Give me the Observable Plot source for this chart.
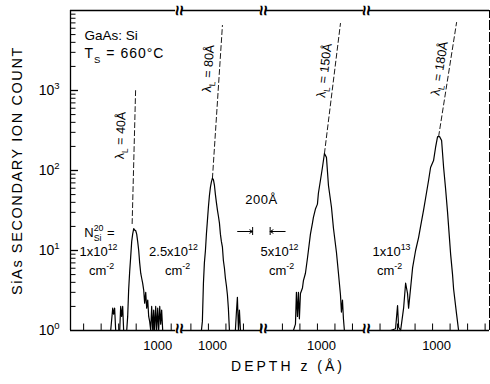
<!DOCTYPE html>
<html><head><meta charset="utf-8">
<script src="https://cdn.jsdelivr.net/npm/d3@7"></script>
<script src="https://cdn.jsdelivr.net/npm/@observablehq/plot@0.6"></script>
<style>body{margin:0;background:#fff} svg{font-family:"Liberation Sans",Arial,sans-serif;background:#fff}</style>
</head><body><div id="chart"></div>
<script>
// Panels (broken depth axis): decay length label, dose, visible depth window (Å)
const panelLambda = ["λ_{L} = 40Å", "λ_{L} = 80Å", "λ_{L} = 150Å", "λ_{L} = 180Å"];
const panelDose = ["1x10^{12}", "2.5x10^{12}", "5x10^{12}", "1x10^{13}"];
const panelStart = [50, 660, 385, 245];
const panelEnd = [1285, 1630, 1560, 1650];
const panelTicks = [[200,400,600,800,1000,1200],[800,1000,1200,1400,1600],[600,800,1000,1200,1400],[400,600,800,1000,1200,1400,1600]];
const tickLabelDepth = 1000;

// SiAs secondary ion count profiles (depth Å, counts)
const depth40 = [509,532,543,554,566,612,623,634,646,657,692,703,714,726,737,749,760,772,783,794,806,817,829,840,852,863,874,886,897,909,920,932,943,954,966,977,989,1000,1011,1023,1034,1046,1057,1069,1080,1091,1103,1114];
const count40 = [1,1.9,1.6,1.9,1,1,2.0,1.5,2.0,1,1,1.5,3.2,5.5,8.2,13,16,18.8,18,17.8,16,13,10,7,5.2,4.5,3.9,3.2,2.2,3.0,1.9,2.4,1.5,1.3,1,2.0,1,1.8,1,2.0,1,1.9,1,2.0,1.2,1.8,1,1];
const depth80 = [920,931,943,954,966,977,989,1000,1011,1023,1034,1046,1057,1069,1080,1091,1103,1114,1126,1137,1148,1160,1171,1183,1194,1206,1217,1228,1240,1308,1320,1331,1343,1354,1366];
const count80 = [1,1.3,3.9,7,10,16,24,35,48,62,72,80,77,65,50,40,32,27,22,16,13,11,7.5,6,4.5,3.6,2.8,1.9,1,1,1.7,2.6,1,1.8,1];
const depth150 = [726,749,760,772,783,794,806,829,840,863,886,897,920,943,954,977,1000,1011,1034,1057,1080,1103,1126,1160,1183,1217,1240,1263,1274,1286,1297,1308];
const count150 = [1,1.2,3,1.5,3,1.4,2.9,3.4,4.2,5.2,8,10,16,22,26,33,38,52,75,109,163,146,65,35,19,9.5,5.2,2.8,1.7,2.4,1.4,1];
const depth180 = [520,577,600,612,635,669,692,714,726,749,772,806,840,863,897,920,954,977,1011,1034,1057,1080,1103,1126,1148,1171,1206,1228,1240,1274,1297];
const count180 = [1,1.05,2.05,1.1,1,1.9,3.9,2.9,1.9,3.4,6.1,10,14.5,20,32,45,75,109,133,194,265,265,237,109,60,30,9,5,3.3,1.6,1];

// Leading-edge decay lines (dashed)
const dashDepth = [[754,794],[1046,1160],[1080,1263],[1069,1274]];
const dashCount = [[21.7,1056],[80,6500],[163,6890],[266,7080]];
// Label anchors
const lamDepth = [623, 1000, 1080, 1080];
const lamCount = [274, 1884, 1778, 1884];
const lamRotate = [-88, -86, -83, -81];
const doseDepth = [370, 601, 567, 531];
const doseCount = 9.7;
const cmDepth = [404, 647, 590, 508];
const cmCount = 5.6;

const yDecades = [1, 10, 100, 1000];
const yMinor = [1,10,100,1000].flatMap(d => [2,3,4,5,6,7,8,9].map(k => k*d));

// composite x coordinate
const widths = panelStart.map((s,i) => panelEnd[i]-s);
const offset = widths.map((w,i) => d3.sum(widths.slice(0,i)));
const total = d3.sum(widths);
const W = 490, H = 384, mL = 70, mR = 1, mT = 10, mB = 54;
const pxU = total / (W - mL - mR);
const U = (p, d) => offset[p] + d - panelStart[p];
const pxY = px => Math.pow(10, px/80);

const profiles = [[depth40,count40],[depth80,count80],[depth150,count150],[depth180,count180]];
const rows = profiles.flatMap(([ds,cs],p) => ds.map((d,i) => ({p, u: U(p,d), c: cs[i]})));
const dashRows = dashDepth.flatMap((ds,p) => ds.map((d,i) => ({p, u: U(p,d), c: dashCount[p][i]})));
const P = [0,1,2,3];
const gap = 3*pxU;
const ticks = panelTicks.flatMap((t,p) => t.map(d => U(p,d)));
const bounds = [1,2,3].map(p => offset[p]);

const font = "Liberation Sans, Arial, sans-serif";
const chart = Plot.plot({
  width: W, height: H, marginLeft: mL, marginRight: mR, marginTop: mT, marginBottom: mB,
  x: {domain: [0, total], axis: null},
  y: {type: "log", domain: [1, 1e4], axis: null},
  marks: [
    // frame
    Plot.ruleY(P, {y: 1e4, x1: p => offset[p] + (p>0?gap:0), x2: p => offset[p]+widths[p] - (p<3?gap:0), stroke: "#000", strokeWidth: 1.3}),
    Plot.ruleY(P, {y: 1, x1: p => offset[p] + (p>0?gap:0), x2: p => offset[p]+widths[p] - (p<3?gap:0), stroke: "#000", strokeWidth: 1.3}),
    Plot.ruleX([0], {x: d => d, y1: 1, y2: 1e4, stroke: "#000", strokeWidth: 1.3}),
    Plot.ruleX([total], {x: d => d, y1: 1, y2: 1e4, stroke: "#000", strokeWidth: 1, strokeDasharray: "10,2"}),
    // y ticks (inward)
    Plot.ruleY(yDecades.slice(1), {y: d => d, x1: 0, x2: 8*pxU, stroke: "#000", strokeWidth: 1.3}),
    Plot.ruleY(yMinor, {y: d => d, x1: 0, x2: 5.5*pxU, stroke: "#000", strokeWidth: 1}),
    Plot.axisY(yDecades, {tickSize: 0, tickPadding: 11, tickFormat: d => `10^{${Math.round(Math.log10(d))}}`, fontSize: 14, fontFamily: font, label: null}),
    // x ticks
    Plot.ruleX(ticks, {x: d => d, y1: 1, y2: pxY(6.5), stroke: "#000", strokeWidth: 1}),
    Plot.text(P, {x: p => U(p, tickLabelDepth), y: 1, text: () => "1000", dy: 15, dx: 4, fontSize: 13, fontFamily: font}),
    // breaks
    Plot.text(bounds, {x: d => d, y: 1e4, text: () => "≈", rotate: 90, fontSize: 19, fontWeight: "bold", fontFamily: font}),
    Plot.text(bounds, {x: d => d, y: 1, text: () => "≈", rotate: 90, fontSize: 19, fontWeight: "bold", dy: -2, fontFamily: font}),
    // profiles
    Plot.line(rows, {x: "u", y: "c", z: "p", stroke: "#000", strokeWidth: 1.2}),
    Plot.line(dashRows, {x: "u", y: "c", z: "p", stroke: "#000", strokeWidth: 0.9, strokeDasharray: "5,3"}),
    // labels
    Plot.text(P, {x: p => U(p, lamDepth[p]), y: p => lamCount[p], rotate: p => lamRotate[p], text: p => panelLambda[p], fontSize: 12.5, fontFamily: font}),
    Plot.text(P, {x: p => U(p, doseDepth[p]), y: doseCount, text: p => panelDose[p], fontSize: 13, fontFamily: font}),
    Plot.text(P, {x: p => U(p, cmDepth[p]), y: cmCount, text: () => "cm^{-2}", fontSize: 13, fontFamily: font}),
    Plot.text(["N_{Si}^{20} ="], {x: U(0, 381), y: 16.8, text: d => d, fontSize: 13, fontFamily: font}),
    // 200 Å scale marker
    Plot.ruleX([U(2,260), U(2,460)], {x: d => d, y1: pxY(99-4), y2: pxY(99+4), stroke: "#000"}),
    Plot.arrow([0], {x1: U(2,260) - 15*pxU, x2: U(2,260), y1: pxY(99), y2: pxY(99), headLength: 5, stroke: "#000", strokeWidth: 1}),
    Plot.arrow([0], {x1: U(2,460) + 15*pxU, x2: U(2,460), y1: pxY(99), y2: pxY(99), headLength: 5, stroke: "#000", strokeWidth: 1}),
    Plot.text(["200Å"], {x: U(2,360), y: pxY(131), text: d => d, fontSize: 13, fontFamily: font}),
    // titles
    Plot.text(["GaAs: Si"], {frameAnchor: "top-left", dx: 14, dy: 20, text: d => d, textAnchor: "start", fontSize: 13.5, fontFamily: font}),
    Plot.text(["T_{S} = 660°C"], {frameAnchor: "top-left", dx: 14, dy: 38, text: d => d, textAnchor: "start", fontSize: 14, fontFamily: font}),
    Plot.text(["SiAs SECONDARY ION COUNT"], {frameAnchor: "left", rotate: -90, dx: -53, text: d => d, textAnchor: "middle", fontSize: 14.5, fontFamily: font}),
    Plot.text(["DEPTH z (Å)"], {frameAnchor: "bottom", dx: 8, dy: 40, text: d => d, textAnchor: "middle", fontSize: 14, fontFamily: font})
  ]
});
document.getElementById("chart").appendChild(chart);

// letter spacing
const spacing = {"SiAs SECONDARY ION COUNT": 1.6, "DEPTH z (Å)": 3, "T_{S} = 660°C": 1, "200Å": 0.5};
chart.querySelectorAll("text").forEach(t => {
  const s = t.textContent;
  if (spacing[s] != null) t.setAttribute("letter-spacing", spacing[s]);
});
// rich text: _{sub} and ^{sup}
const NS = "http://www.w3.org/2000/svg";
chart.querySelectorAll("text").forEach(t => {
  const s = t.textContent;
  if (!/[_^]\{/.test(s)) return;
  const fs = parseFloat(getComputedStyle(t).fontSize) || 12;
  const parts = []; const re = /([_^])\{([^}]*)\}/g; let last = 0, m;
  while ((m = re.exec(s))) { if (m.index > last) parts.push({t: s.slice(last, m.index), k: ""}); parts.push({t: m[2], k: m[1]}); last = re.lastIndex; }
  if (last < s.length) parts.push({t: s.slice(last), k: ""});
  t.textContent = "";
  let shift = 0, prev = null, prevEl = null;
  parts.forEach(p => {
    const ts = document.createElementNS(NS, "tspan");
    const target = p.k === "_" ? 0.3*fs : p.k === "^" ? -0.42*fs : 0;
    if (target - shift !== 0) ts.setAttribute("dy", target - shift);
    shift = target;
    if (p.k) ts.setAttribute("font-size", 0.68*fs);
    ts.textContent = p.t;
    t.appendChild(ts);
    if (p.k === "^" && prev && prev.k === "_") ts.setAttribute("dx", -prevEl.getComputedTextLength());
    prev = p; prevEl = ts;
  });
});
</script></body></html>
